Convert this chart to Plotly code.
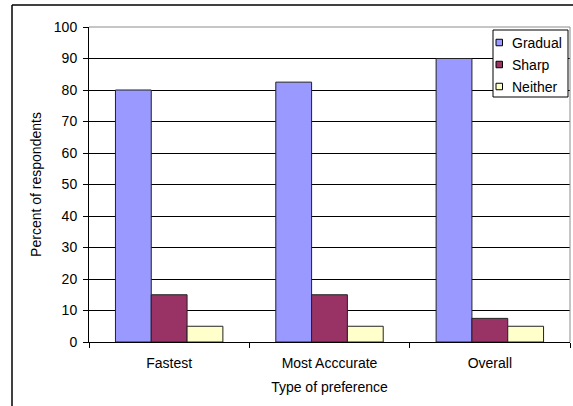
import plotly.graph_objects as go

# Survey results: preferred transition type by category
categories = ["Fastest", "Most Acccurate", "Overall"]
gradual = [80, 82.5, 90]
sharp = [15, 15, 7.5]
neither = [5, 5, 5]

series = [
    ("Gradual", gradual, "#9999FF"),
    ("Sharp", sharp, "#993366"),
    ("Neither", neither, "#FFFFCC"),
]

W, H = 573, 406
L, R, T, B = 89, 3, 27, 64
pw, ph = W - L - R, H - T - B
FONT = "Liberation Sans, Arial, sans-serif"


def px_x(x):
    return (x - L) / pw


def px_y(y):
    return (H - B - y) / ph


fig = go.Figure()
for name, vals, color in series:
    fig.add_trace(go.Bar(
        x=categories, y=vals, name=name,
        marker=dict(color=color, line=dict(color="#222222", width=1)),
    ))

fig.update_layout(
    width=W, height=H,
    margin=dict(l=L, r=R, t=T, b=B, autoexpand=False),
    paper_bgcolor="white", plot_bgcolor="white",
    barmode="group", bargap=0.33, bargroupgap=0,
    font=dict(family=FONT, size=14, color="#000000"),
    showlegend=False,
    xaxis=dict(
        type="category", tickson="boundaries", ticks="outside", ticklen=5,
        tickcolor="#000000", showline=True, linecolor="#000000", linewidth=1,
        showgrid=False, tickfont=dict(size=14), ticklabelstandoff=8,
        title=dict(text="Type of preference", standoff=12, font=dict(size=14)),
    ),
    yaxis=dict(
        range=[0, 100], dtick=10, ticks="outside", ticklen=5, tickcolor="#000000",
        showline=True, linecolor="#000000", linewidth=1, tickfont=dict(size=14),
        ticklabelstandoff=3,
        showgrid=True, gridcolor="#000000", gridwidth=1, zeroline=False,
        title=dict(text="Percent of respondents", standoff=8, font=dict(size=14)),
    ),
)

# Plot-area border on the top and right edges
fig.add_shape(type="line", xref="paper", yref="paper", x0=0, x1=1, y0=1, y1=1,
              line=dict(color="#8c8c8c", width=1))
fig.add_shape(type="line", xref="paper", yref="paper", x0=1, x1=1, y0=0, y1=1,
              line=dict(color="#8c8c8c", width=1))

# Outer chart frame
fig.add_shape(type="line", xref="paper", yref="paper",
              x0=px_x(12), x1=px_x(12), y0=px_y(H), y1=px_y(5),
              line=dict(color="#000000", width=1.5))
fig.add_shape(type="line", xref="paper", yref="paper",
              x0=px_x(12), x1=px_x(W), y0=px_y(5), y1=px_y(5),
              line=dict(color="#000000", width=1.5))

# Compact legend box with small swatches
fig.add_shape(type="rect", xref="paper", yref="paper",
              x0=px_x(493), x1=px_x(568), y0=px_y(97), y1=px_y(30),
              fillcolor="white", line=dict(color="#000000", width=1), layer="above")
for i, (name, _, color) in enumerate(series):
    cy = 42.5 + 22 * i
    fig.add_shape(type="rect", xref="paper", yref="paper",
                  x0=px_x(496), x1=px_x(502.5), y0=px_y(cy + 3.25), y1=px_y(cy - 3.25),
                  fillcolor=color, line=dict(color="#000000", width=1), layer="above")
    fig.add_annotation(x=px_x(510), y=px_y(cy), xref="paper", yref="paper",
                       text=name, showarrow=False, xanchor="left", yanchor="middle",
                       font=dict(family=FONT, size=14, color="#000000"))

fig.write_html("out.html")
